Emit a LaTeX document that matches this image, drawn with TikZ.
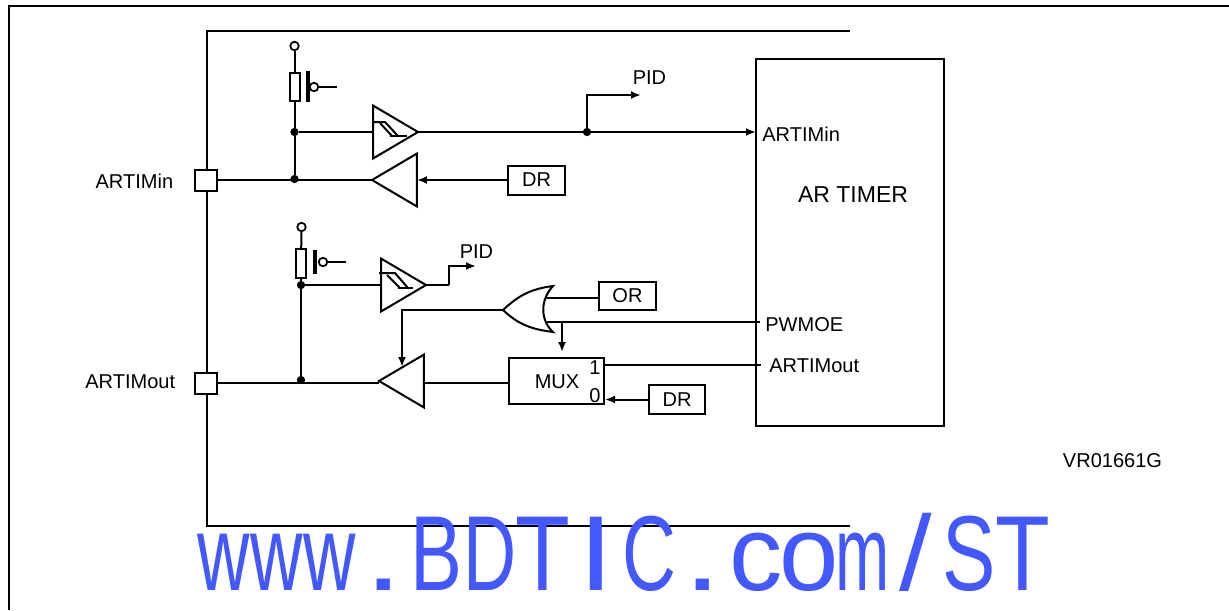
\documentclass[tikz,border=0pt]{standalone}
\usepackage{fontspec}
\setmainfont{Liberation Sans}
\usetikzlibrary{arrows.meta,shapes.geometric}
\definecolor{markblue}{HTML}{4458FF}
\def\markchar#1#2{\makebox[1.066cm]{\scalebox{#2}[1]{#1}}}
\tikzset{
	wire/.style={line width=0.4mm},
	arrowwire/.style={wire,-{Latex[length=2mm,width=1.6mm]}},
	labelbox/.style={draw,line width=0.4mm,rectangle,inner sep=0pt,font=\fontsize{11.4}{13}\selectfont},
	pad/.style={labelbox,minimum width=0.44cm,minimum height=0.42cm},
	resistor/.style={labelbox,minimum width=0.2cm,minimum height=0.57cm},
	buffer/.style={draw,line width=0.4mm,isosceles triangle,isosceles triangle stretches,inner sep=0pt,outer sep=0pt,minimum width=1.06cm,minimum height=0.9cm},
	dot/.style={draw,circle,fill=black,inner sep=0pt,minimum size=0.15cm},
	opendot/.style={draw,line width=0.35mm,circle,fill=white,inner sep=0pt,minimum size=0.17cm},
	txt/.style={inner sep=0pt,font=\fontsize{11.4}{13}\selectfont}
}
\begin{document}
\begin{tikzpicture}[x=0.02cm,y=-0.02cm]
	\useasboundingbox (0,0) rectangle (1229,610);
	%%%%% frames %%%%%
	\draw[wire] (9,610) -- (9,6) -- (1229,6);
	\draw[wire] (850,31) -- (207,31) -- (207,526) -- (850,526);

	%%%%% timer block %%%%%
	\node[labelbox,minimum width=3.76cm,minimum height=7.34cm] (timer) at (850,242.5) {};
	\node[txt,font=\fontsize{13.1}{15}\selectfont] (timertxt) at (853,195) {AR TIMER};
	\coordinate (timerin) at (756,132);
	\coordinate (pwmoe) at (760,322);
	\coordinate (muxin) at (761,365);
	\node[txt,anchor=west] (lblin) at (762,134) {ARTIMin};
	\node[txt,anchor=west] (lblpwm) at (765,325) {PWMOE};
	\node[txt,anchor=west] (lblout) at (769,366) {ARTIMout};

	%%%%% pads %%%%%
	\node[pad,fill=white] (padin) at (206,180) {};
	\node[pad,fill=white] (padout) at (206,383) {};
	\node[txt,anchor=east] (padinl) at (173.5,181) {ARTIMin};
	\node[txt,anchor=east] (padoutl) at (175.5,382) {ARTIMout};

	%%%%% upper channel %%%%%
	\node[opendot] (topa) at (294.5,46) {};
	\node[resistor] (resa) at (294.5,87) {};
	\node[dot] (juna) at (294.5,132) {};
	\node[dot] (junb) at (294.5,179) {};
	\draw[wire] (topa) -- (resa);
	\draw[wire] (resa) -- (juna) -- (junb);
	\draw[line width=0.65mm] (308,71) -- (308,102);
	\node[opendot] (buba) at (314,87) {};
	\coordinate (pulla) at (337,87);
	\draw[wire] (buba) -- (pulla);

	\node[buffer,anchor=apex] (bufa) at (418,132) {};
	\draw[wire] (juna) -- (bufa.lower side);
	\draw[wire] (372,122) -- (385,122) -- (398,136);
	\draw[wire] (380,123) -- (392,136);
	\draw[wire] (390,136) -- (407,136);
	\node[dot] (junc) at (587,132) {};
	\draw[wire] (bufa.apex) -- (junc);
	\draw[arrowwire] (junc) -- (timerin);
	\coordinate (pida) at (641,95);
	\draw[arrowwire] (junc) |- (pida);
	\node[txt] (pidatxt) at (649.5,78) {PID};

	\node[buffer,shape border rotate=180,anchor=apex] (bufb) at (372,180) {};
	\node[labelbox,minimum width=1.14cm,minimum height=0.58cm] (dra) at (536.5,180) {DR};
	\draw[wire] (padin) -- (bufb.apex);
	\draw[arrowwire] (dra) -- (bufb.lower side);

	%%%%% lower channel %%%%%
	\node[opendot] (topb) at (301.5,227) {};
	\node[resistor] (resb) at (301,263.5) {};
	\node[dot] (jund) at (301,285) {};
	\node[dot] (june) at (301,380) {};
	\draw[wire] (topb) -- (resb);
	\draw[wire] (resb) -- (jund) -- (june);
	\draw[line width=0.65mm] (315,250) -- (315,274);
	\node[opendot] (bubb) at (323,262) {};
	\coordinate (pullb) at (346,262);
	\draw[wire] (bubb) -- (pullb);

	\node[buffer,anchor=apex] (bufc) at (426,285) {};
	\draw[wire] (jund) -- (bufc.lower side);
	\draw[wire] (379,273) -- (395,273) -- (408,288);
	\draw[wire] (387,275) -- (400,288);
	\draw[wire] (398,288) -- (413,288);
	\coordinate (pidb) at (476,266);
	\coordinate (bendb) at (449,285);
	\draw[wire] (bufc.apex) -- (bendb);
	\draw[arrowwire] (bendb) |- (pidb);
	\node[txt] (pidbtxt) at (476.5,252) {PID};

	\node[buffer,shape border rotate=180,anchor=apex] (bufd) at (379,381) {};
	\node[labelbox,minimum width=1.9cm,minimum height=0.92cm] (mux) at (556.5,381) {};
	\node[txt] (muxtxt) at (557,382) {MUX};
	\node[txt] (muxone) at (595,368) {1};
	\node[txt] (muxzero) at (595,396) {0};
	\node[labelbox,minimum width=1.12cm,minimum height=0.58cm] (drb) at (677,399.5) {DR};
	\coordinate (muxa) at (604,365);
	\coordinate (muxb) at (605,399.5);
	\coordinate (muxout) at (509,383);
	\coordinate (bufdtip) at (379,383);
	\coordinate (bufdback) at (424,383);
	\draw[wire] (padout) -- (bufdtip);
	\draw[wire] (muxout) -- (bufdback);
	\draw[wire] (muxa) -- (muxin);
	\draw[arrowwire] (drb) -- (muxb);

	%%%%% or gate %%%%%
	\coordinate (ortip) at (503,310);
	\coordinate (ortop) at (553,286);
	\coordinate (orbot) at (553,332);
	\draw[wire] (ortip) .. controls (518,296) and (530,289) .. (ortop)
		.. controls (540,300) and (540,320) .. (orbot)
		.. controls (530,329) and (518,324) .. (ortip);
	\node[labelbox,minimum width=1.14cm,minimum height=0.56cm] (orbox) at (627.5,296) {OR};
	\coordinate (orina) at (546,298);
	\coordinate (orinb) at (547,322);
	\coordinate (branch) at (562,322);
	\coordinate (seltip) at (562,352);
	\coordinate (enatip) at (402,367);
	\draw[wire] (orina) -- (orbox.west |- orina);
	\draw[wire] (orinb) -- (pwmoe);
	\draw[arrowwire] (branch) -- (seltip);
	\draw[arrowwire] (ortip) -| (enatip);

	\node[txt] (code) at (1112.5,461) {VR01661G};
	\node[inner sep=0pt,anchor=base west,text=markblue,font=\fontsize{60.7}{61}\selectfont] (mark) at (196.4,590.7)
		{\smash{\markchar{w}{.68}\markchar{w}{.68}\markchar{w}{.68}\markchar{.}{1.3}\markchar{B}{.73}\markchar{D}{.69}\markchar{T}{.84}\markchar{I}{1.2}\markchar{C}{.7}\markchar{.}{1.3}\markchar{c}{1}\markchar{o}{1}\markchar{m}{.61}\markchar{/}{1.1}\markchar{S}{.75}\markchar{T}{.84}}};
\end{tikzpicture}
\end{document}
